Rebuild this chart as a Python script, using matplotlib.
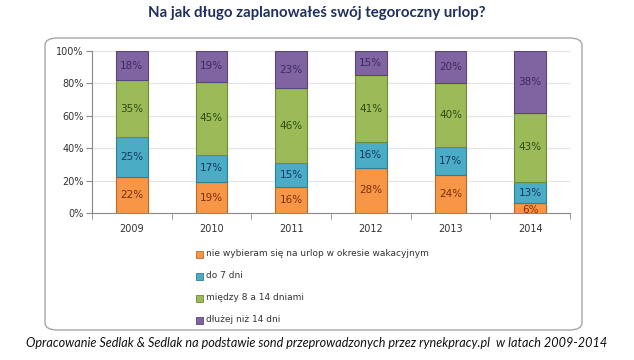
import matplotlib
matplotlib.use("Agg")
import matplotlib.pyplot as plt
import numpy as np
from matplotlib.patches import FancyBboxPatch, Rectangle

years = ["2009", "2010", "2011", "2012", "2013", "2014"]
nie_wybieram = [22, 19, 16, 28, 24, 6]
do_7_dni = [25, 17, 15, 16, 17, 13]
miedzy_8_14 = [35, 45, 46, 41, 40, 43]
dluzej_14 = [18, 19, 23, 15, 20, 38]
series_names = ["nie wybieram się na urlop w okresie wakacyjnym", "do 7 dni",
                "między 8 a 14 dniami", "dłużej niż 14 dni"]
yticks = [0, 20, 40, 60, 80, 100]

colors = ["#F79646", "#4BACC6", "#9BBB59", "#8064A2"]
edges = ["#B86A2A", "#2E7F96", "#6E8A36", "#5A4578"]
txtc = ["#7A2E10", "#17375E", "#2E4A12", "#3A2A5E"]

plt.rcParams['font.family'] = ['DejaVu Sans']
fig = plt.figure(figsize=(6.34, 3.6), dpi=100)
W, H = 634, 360

# rounded frame
box = FancyBboxPatch((45 / W, 1 - 330 / H), (582 - 45) / W, (330 - 38) / H,
                     boxstyle="round,pad=0,rounding_size=0.02",
                     transform=fig.transFigure, fill=False,
                     edgecolor="#A6A6A6", linewidth=1.0)
fig.patches.append(box)

ax = fig.add_axes([92 / W, 1 - 213 / H, (570 - 92) / W, (213 - 51) / H])
data = np.array([nie_wybieram, do_7_dni, miedzy_8_14, dluzej_14], dtype=float)
tot = data.sum(axis=0)
norm = data / tot * 100
x = np.arange(len(years))
bottom = np.zeros(len(years))
for i in range(4):
    ax.bar(x, norm[i], 0.4, bottom=bottom, color=colors[i], edgecolor=edges[i],
           linewidth=0.8, zorder=3)
    for j in range(len(years)):
        yc = bottom[j] + norm[i][j] / 2
        if norm[i][j] < 8:
            yc = bottom[j] + 2
        ax.text(x[j], yc, f"{int(data[i][j])}%", ha="center", va="center",
                fontsize=7.5, color=txtc[i], zorder=4)
    bottom += norm[i]

ax.set_xlim(-0.5, len(years) - 0.5)
ax.set_ylim(0, 100)
ax.set_yticks(yticks)
ax.set_yticklabels([f"{v}%" for v in yticks], fontsize=7, color="#333333")
ax.set_xticks(x)
ax.set_xticklabels(years, fontsize=7, color="#333333")
ax.tick_params(axis="x", length=0, pad=8)
ax.set_xticks(np.arange(-0.5, len(years), 1), minor=True)
ax.tick_params(axis="x", which="minor", length=4, color="#888888", direction="out")
ax.tick_params(axis="y", length=4, color="#888888", pad=2)
ax.grid(axis="y", color="#E4E4E4", linewidth=0.8, zorder=0)
for s in ["top", "right"]:
    ax.spines[s].set_visible(False)
ax.spines["left"].set_color("#888888")
ax.spines["bottom"].set_color("#888888")

# legend
ly = [254, 276, 298, 320]
for i in range(4):
    fig.patches.append(Rectangle((196 / W, 1 - (ly[i] + 3.5) / H), 7 / W, 7 / H,
                                 transform=fig.transFigure, facecolor=colors[i],
                                 edgecolor=edges[i], linewidth=0.6))
    fig.text(206 / W, 1 - ly[i] / H, series_names[i], fontsize=6.5,
             color="#333333", va="center", ha="left")

fig.text(0.5, 1 - 13 / H, "Na jak długo zaplanowałeś swój tegoroczny urlop?",
         ha="center", va="center", fontsize=10.8, fontweight="bold", color="#1F2F5F",
         family=["Lato", "DejaVu Sans"])
fig.text(0.5, 1 - 343 / H,
         "Opracowanie Sedlak & Sedlak na podstawie sond przeprowadzonych przez rynekpracy.pl  w latach 2009-2014",
         ha="center", va="center", fontsize=9.1, style="italic", color="#111111",
         family=["Lato", "DejaVu Sans"])

fig.savefig("out.png", dpi=100)
